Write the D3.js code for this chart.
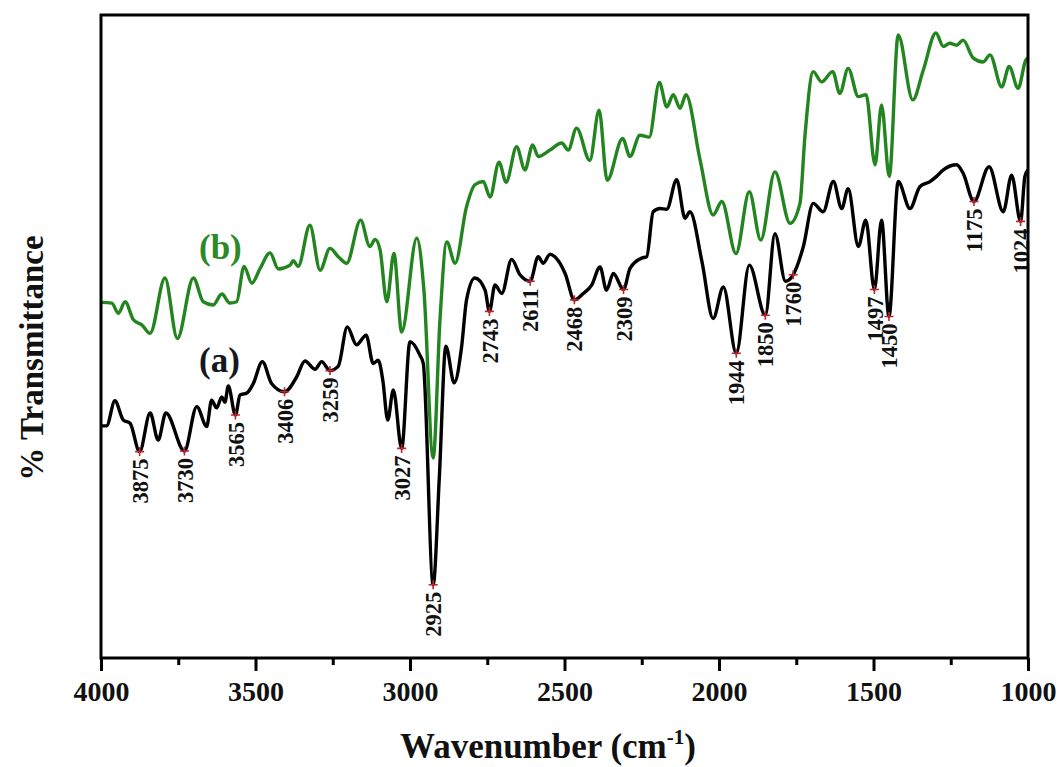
<!DOCTYPE html>
<html>
<head>
<meta charset="utf-8">
<script src="https://cdn.jsdelivr.net/npm/d3@7"></script>
<style>
  html, body { margin: 0; padding: 0; background: #fff; }
  svg { display: block; }
</style>
</head>
<body>
<svg id="chart" width="1060" height="767"></svg>
<script>
// FTIR spectra: wavenumber (cm-1) and % transmittance (arbitrary offset scale)
const wavenumberA = [4000,3982,3955,3928,3906,3875,3841,3815,3790,3730,3690,3658,3642,3626,3609,3599,3588,3565,3550,3528,3507,3478,3448,3406,3367,3340,3307,3286,3259,3232,3203,3173,3142,3119,3103,3088,3072,3054,3027,3000,2968,2957,2925,2905,2884,2857,2833,2817,2790,2757,2743,2725,2703,2671,2644,2611,2585,2569,2547,2515,2498,2468,2439,2412,2385,2364,2342,2309,2288,2250,2234,2213,2191,2169,2137,2110,2094,2055,2019,1986,1944,1902,1850,1819,1785,1760,1727,1695,1663,1630,1603,1582,1549,1525,1497,1474,1450,1420,1382,1350,1317,1296,1274,1231,1210,1175,1126,1080,1053,1024,1010,1000];
const transmittanceA = [36.1,36.1,40.0,37.0,36.5,32.1,38.1,33.9,38.1,32.2,39.1,36.0,40.1,38.9,40.6,39.8,42.3,37.8,40.9,41.2,42.7,46.1,42.7,41.4,43.7,46.2,44.9,46.1,44.7,45.4,51.5,48.7,50.2,45.8,46.3,43.2,37.0,41.7,32.6,49.2,47.1,45.8,11.4,28.2,48.5,42.8,48.4,55.7,59.1,57.2,53.9,58.0,56.7,62.0,59.6,58.6,62.4,61.4,62.8,61.4,59.8,55.7,56.7,58.0,60.8,57.2,59.8,57.3,60.6,62.2,62.4,69.4,69.9,69.8,74.4,68.4,69.4,61.6,52.8,57.7,47.4,61.1,53.3,66.0,58.6,59.6,64.0,70.7,69.4,74.1,69.9,73.0,64.0,68.1,57.3,68.1,53.1,74.1,69.9,73.3,74.1,74.9,75.9,76.7,75.4,71.0,76.4,69.4,75.1,67.9,74.9,75.9];

const wavenumberB = [4000,3965,3944,3922,3895,3868,3841,3793,3753,3701,3669,3637,3609,3583,3561,3537,3512,3485,3453,3426,3388,3378,3362,3324,3291,3259,3232,3205,3160,3130,3113,3097,3075,3052,3027,2978,2955,2925,2903,2881,2854,2817,2790,2763,2741,2712,2689,2655,2628,2603,2585,2547,2509,2488,2461,2418,2388,2362,2312,2288,2256,2226,2193,2169,2148,2126,2107,2061,2019,1991,1945,1902,1865,1819,1770,1738,1722,1695,1668,1632,1609,1582,1549,1524,1495,1474,1449,1420,1373,1339,1298,1274,1253,1231,1210,1177,1145,1123,1085,1061,1032,1007,1000];
const transmittanceB = [55.3,55.2,53.6,55.4,52.6,51.8,50.5,59.1,49.7,59.1,55.4,54.9,56.6,55.2,55.4,60.9,58.3,60.6,63.0,60.5,61.1,61.8,60.9,67.3,60.3,63.7,62.4,61.4,68.1,64.0,65.1,63.5,55.4,62.9,50.7,65.3,57.2,31.1,52.6,64.7,61.4,70.2,73.6,74.1,71.7,77.1,74.0,79.5,75.9,79.8,78.0,79.0,80.1,79.0,82.4,77.4,85.2,74.3,80.8,78.0,81.3,81.0,89.5,85.7,87.6,85.5,87.6,77.4,68.9,71.0,62.9,72.5,65.0,75.6,67.6,70.7,81.1,91.2,89.6,91.2,87.8,91.7,87.3,87.6,76.7,86.0,74.9,96.9,86.8,91.4,97.2,95.1,95.6,95.3,96.1,93.3,92.7,93.8,88.8,92.0,88.6,93.0,93.3];

// Band positions marked on spectrum (a)
const peakLabels = [3875,3730,3565,3406,3259,3027,2925,2743,2611,2468,2309,1944,1850,1760,1497,1450,1175,1024];

const xTicksMajor = [4000,3500,3000,2500,2000,1500,1000];
const xTicksMinor = [3750,3250,2750,2250,1750,1250];

const seriesA = wavenumberA.map((w, i) => ({w, t: transmittanceA[i]}));
const seriesB = wavenumberB.map((w, i) => ({w, t: transmittanceB[i]}));

const svg = d3.select("#chart");
const plot = {left: 101, right: 1028, top: 15, bottom: 658};
const serif = "'Liberation Serif', 'Times New Roman', serif";

const x = d3.scaleLinear().domain([4000, 1000]).range([plot.left, plot.right]);
const y = d3.scaleLinear().domain([0, 100]).range([plot.bottom, plot.top]);

svg.append("rect").attr("width", 1060).attr("height", 767).attr("fill", "#fff");

const line = d3.line().x(d => x(d.w)).y(d => y(d.t)).curve(d3.curveMonotoneX);

svg.append("path").datum(seriesB)
  .attr("d", line).attr("fill", "none")
  .attr("stroke", "#23851f").attr("stroke-width", 3.4).attr("stroke-linejoin", "round");

svg.append("path").datum(seriesA)
  .attr("d", line).attr("fill", "none")
  .attr("stroke", "#000").attr("stroke-width", 3.4).attr("stroke-linejoin", "round");

// Peak markers and labels
const peakT = w => transmittanceA[wavenumberA.indexOf(w)];
const marks = svg.append("g");
peakLabels.forEach(w => {
  const px = x(w), py = y(peakT(w));
  marks.append("path")
    .attr("d", `M${px-4.5},${py}H${px+4.5}M${px},${py-4.5}V${py+4.5}`)
    .attr("stroke", "#b8262e").attr("stroke-width", 1.6);
  marks.append("text")
    .attr("transform", `translate(${px},${py + 7}) rotate(-90)`)
    .attr("text-anchor", "end")
    .attr("dy", "0.36em")
    .attr("font-family", serif)
    .attr("font-weight", "bold")
    .attr("font-size", 22.5)
    .attr("fill", "#111")
    .text(w);
});

// Frame
svg.append("rect")
  .attr("x", plot.left).attr("y", plot.top)
  .attr("width", plot.right - plot.left).attr("height", plot.bottom - plot.top)
  .attr("fill", "none").attr("stroke", "#000").attr("stroke-width", 3);

// X axis ticks below the frame
const xAxis = d3.axisBottom(x).tickValues(xTicksMajor).tickSize(13).tickPadding(10).tickFormat(d3.format("d"));
const gx = svg.append("g").attr("transform", `translate(0,${plot.bottom})`).call(xAxis);
gx.select(".domain").remove();
gx.selectAll(".tick line").attr("stroke", "#000").attr("stroke-width", 3);
gx.selectAll(".tick text")
  .attr("font-family", serif)
  .attr("font-weight", "bold").attr("font-size", 28).attr("fill", "#111");

const gxm = svg.append("g").attr("transform", `translate(0,${plot.bottom})`)
  .call(d3.axisBottom(x).tickValues(xTicksMinor).tickSize(7).tickFormat(""));
gxm.select(".domain").remove();
gxm.selectAll(".tick line").attr("stroke", "#000").attr("stroke-width", 3);

// Axis titles
const xt = svg.append("text")
  .attr("x", 548).attr("y", 758)
  .attr("text-anchor", "middle")
  .attr("font-family", serif)
  .attr("font-weight", "bold").attr("font-size", 35).attr("fill", "#111");
xt.append("tspan").text("Wavenumber (cm");
xt.append("tspan").attr("dy", -14).attr("font-size", 21).text("-1");
xt.append("tspan").attr("dy", 14).text(")");

svg.append("text")
  .attr("transform", "translate(43,358) rotate(-90)")
  .attr("text-anchor", "middle")
  .attr("font-family", serif)
  .attr("font-weight", "bold").attr("font-size", 33).attr("fill", "#111")
  .text("% Transmittance");

// Series labels
svg.append("text").attr("x", 199).attr("y", 259)
  .attr("font-family", serif)
  .attr("font-weight", "bold").attr("font-size", 35).attr("fill", "#2b8a26")
  .text("(b)");
svg.append("text").attr("x", 199).attr("y", 372)
  .attr("font-family", serif)
  .attr("font-weight", "bold").attr("font-size", 35).attr("fill", "#16161e")
  .text("(a)");
</script>
</body>
</html>
